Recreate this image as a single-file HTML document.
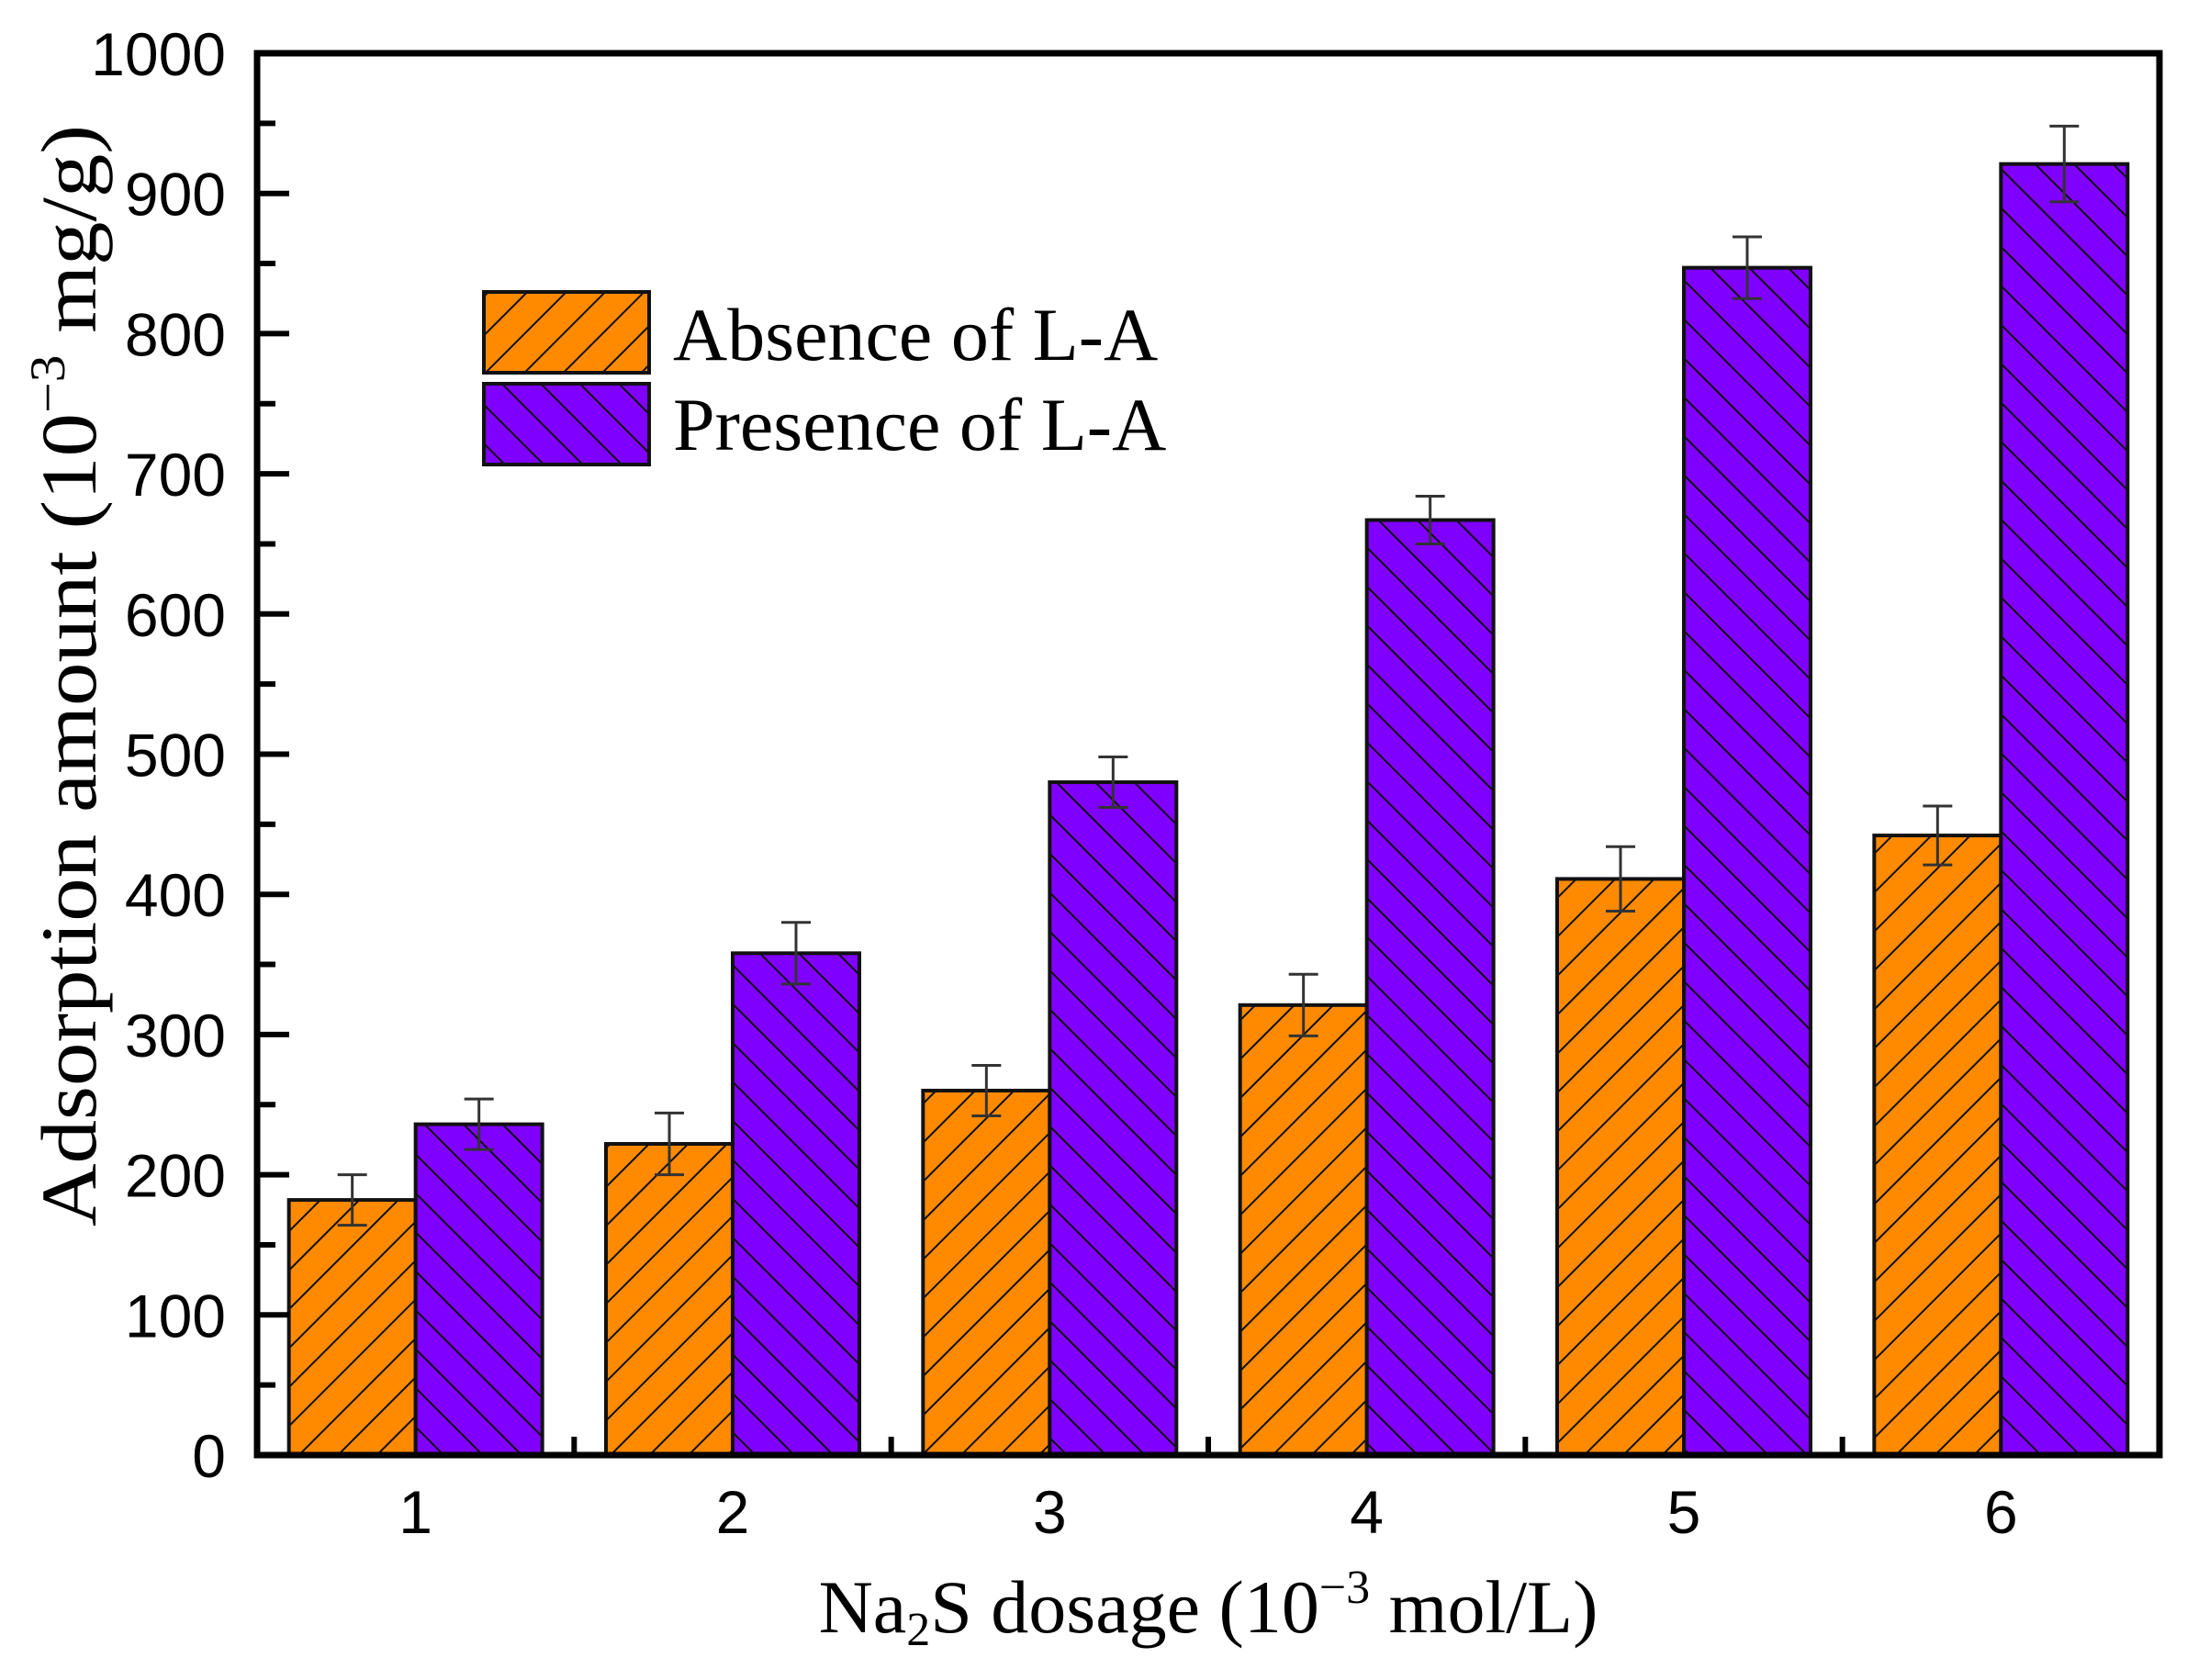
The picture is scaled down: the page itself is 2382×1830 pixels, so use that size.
<!DOCTYPE html>
<html><head><meta charset="utf-8"><style>
html,body{margin:0;padding:0;background:#fff;}
svg{display:block;}
</style></head><body>
<svg id="chart" width="2382" height="1830" viewBox="0 0 2382 1830" xmlns="http://www.w3.org/2000/svg">
<defs>
<pattern id="hatchO" patternUnits="userSpaceOnUse" width="30" height="30" patternTransform="rotate(45)">
<rect width="30" height="30" fill="#ff8a00"/>
<line x1="0" y1="0" x2="0" y2="30" stroke="#111" stroke-width="4"/>
</pattern>
<pattern id="hatchP" patternUnits="userSpaceOnUse" width="30" height="30" patternTransform="rotate(-45)">
<rect width="30" height="30" fill="#8000ff"/>
<line x1="0" y1="0" x2="0" y2="30" stroke="#111" stroke-width="4"/>
</pattern>
</defs>
<g id="bars"></g>
<g id="errs"></g>
<g id="axes"></g>
<g>
<rect x="527" y="318" width="180" height="88" fill="url(#hatchO)" stroke="#111" stroke-width="4"/>
<rect x="527" y="418" width="180" height="88" fill="url(#hatchP)" stroke="#111" stroke-width="4"/>
<text x="733" y="392" font-family="Liberation Serif, serif" font-size="82">Absence of L-A</text>
<text x="733" y="490" font-family="Liberation Serif, serif" font-size="82">Presence of L-A</text>
</g>
<text x="1316" y="1778" text-anchor="middle" font-family="Liberation Serif, serif" font-size="82">Na<tspan font-size="52" dy="14">2</tspan><tspan dy="-14">S dosage (10</tspan><tspan font-size="52" dy="-32">−3</tspan><tspan dy="32"> mol/L)</tspan></text>
<text transform="translate(104,736) rotate(-90)" text-anchor="middle" font-family="Liberation Serif, serif" font-size="86" textLength="1200" lengthAdjust="spacingAndGlyphs">Adsorption amount (10<tspan font-size="54" dy="-34">−3</tspan><tspan dy="34"> mg/g)</tspan></text>
</svg>
<script>
const categories = ["1","2","3","4","5","6"];
const absence = [182, 222, 260, 321, 411, 442];
const absenceErr = [18, 22, 18, 22, 23, 21];
const presence = [236, 358, 480, 667, 847, 921];
const presenceErr = [18, 22, 18, 17, 22, 27];
const yTicks = [0,100,200,300,400,500,600,700,800,900,1000];

const L=280, R=2352, T=58, B=1585;
const NS="http://www.w3.org/2000/svg";
function y(v){return B-(v/1000)*(B-T);}
function x(i){return L+(i+0.5)/categories.length*(R-L);}
const bw=138;
function mk(tag,attrs,parent){const e=document.createElementNS(NS,tag);for(const k in attrs)e.setAttribute(k,attrs[k]);parent.appendChild(e);return e;}
const bars=document.getElementById('bars'),errs=document.getElementById('errs'),axes=document.getElementById('axes');
function err(cx,v,e){
  const g=mk('g',{},errs);
  
  
  mk('line',{x1:cx,x2:cx,y1:y(v+e),y2:y(v-e),stroke:'#333','stroke-width':3},g);
  mk('line',{x1:cx-16,x2:cx+16,y1:y(v+e),y2:y(v+e),stroke:'#333','stroke-width':3},g);
  mk('line',{x1:cx-16,x2:cx+16,y1:y(v-e),y2:y(v-e),stroke:'#333','stroke-width':3},g);
}
categories.forEach((c,i)=>{
  const cx=x(i);
  const a=mk('rect',{x:cx-bw,y:y(absence[i]),width:bw,height:B-y(absence[i]),fill:'url(#hatchO)',stroke:'#111','stroke-width':4},bars);
  
  
  const p=mk('rect',{x:cx,y:y(presence[i]),width:bw,height:B-y(presence[i]),fill:'url(#hatchP)',stroke:'#111','stroke-width':4},bars);
  
  
  err(cx-bw/2,absence[i],absenceErr[i]);
  err(cx+bw/2,presence[i],presenceErr[i]);
  const t=mk('text',{x:cx,y:1670,'text-anchor':'middle','font-family':'Liberation Sans, sans-serif','font-size':66},axes);
  t.textContent=c;
  
  
  if(i<categories.length-1){
    const mx=(x(i)+x(i+1))/2;
    mk('line',{x1:mx,x2:mx,y1:B,y2:B-20,stroke:'#000','stroke-width':6},axes);
  }
});
yTicks.forEach((v,i)=>{
  mk('line',{x1:L,x2:L+35,y1:y(v),y2:y(v),stroke:'#000','stroke-width':6},axes);
  if(i<yTicks.length-1){const m=(yTicks[i]+yTicks[i+1])/2;mk('line',{x1:L,x2:L+20,y1:y(m),y2:y(m),stroke:'#000','stroke-width':6},axes);}
  const t=mk('text',{x:246,y:y(v)+24,'text-anchor':'end','font-family':'Liberation Sans, sans-serif','font-size':66},axes);
  t.textContent=v;
  
  
});
const f=mk('rect',{x:L,y:T,width:R-L,height:B-T,fill:'none',stroke:'#000','stroke-width':7},axes);


</script>
</body></html>
